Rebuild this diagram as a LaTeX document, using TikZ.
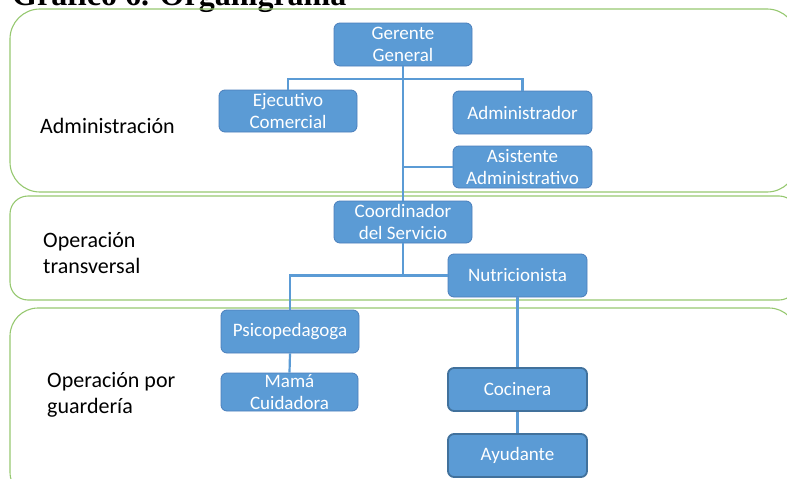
\documentclass[tikz,border=0pt]{standalone}
\usepackage{fontspec}
\setmainfont{Carlito}
\newfontfamily\titlefont{Liberation Serif}
\definecolor{panelgreen}{RGB}{150,200,112}
\definecolor{boxblue}{RGB}{91,155,213}
\definecolor{boxedge}{RGB}{74,126,187}
\definecolor{boxdark}{RGB}{65,113,156}
\begin{document}
\begin{tikzpicture}[x=1pt,y=-1pt,
  panel/.style={draw=panelgreen, line width=1.1pt},
  orgbox/.style={draw=boxedge, line width=0.8pt, fill=boxblue, rounded corners=6pt,
    text=white, align=center, inner sep=0pt, font=\fontsize{19}{21.5}\selectfont},
  orgboxdark/.style={orgbox, draw=boxdark, line width=1.8pt},
  link/.style={draw=boxblue, line width=2.2pt},
  lbl/.style={anchor=base west, inner sep=0pt, font=\fontsize{22}{26}\selectfont, align=left}
]
\useasboundingbox (0,0) rectangle (787,479);
\clip (0,0) rectangle (787,479);
% title (cut off at the top, as in the reference)
\node[anchor=base west, inner sep=0pt, font=\titlefont\bfseries\fontsize{32}{36}\selectfont] (title) at (12,5.5) {Gráfico 6. Organigrama};
% panels
\draw[panel, rounded corners=30pt] (10,9) rectangle (797,192);
\draw[panel, rounded corners=18pt] (10,196) rectangle (797,300);
\draw[panel, rounded corners=28pt] (10,308) rectangle (797,500);
% panel labels (anchored at the baseline of the last line)
\node[lbl] (l1) at (40,133) {Administración};
\node[lbl] (l2) at (43,273) {Operación\\transversal};
\node[lbl] (l3) at (47,413) {Operación por\\guardería};
\coordinate (h1) at (403,79);
% boxes
\node[orgbox, minimum width=138pt, minimum height=43pt] (gg) at (403,44.5) {Gerente\\General};
\node[orgbox, minimum width=138pt, minimum height=42pt] (ej) at (288,111) {Ejecutivo\\Comercial};
\node[orgbox, minimum width=139pt, minimum height=43pt] (ad) at (522.5,112.5) {Administrador};
\node[orgbox, minimum width=139pt, minimum height=42pt] (as) at (522.5,167) {Asistente\\Administrativo};
\node[orgbox, minimum width=138pt, minimum height=42pt] (co) at (403,222) {Coordinador\\del Servicio};
\node[orgbox, minimum width=139pt, minimum height=43pt] (nu) at (517.5,275.5) {Nutricionista};
\node[orgbox, minimum width=138pt, minimum height=43pt] (ps) at (290,331.5) {Psicopedagoga};
\node[orgbox, minimum width=137pt, minimum height=38pt] (mc) at (289.5,392) {Mamá\\Cuidadora};
\node[orgboxdark, minimum width=139pt, minimum height=43pt] (coc) at (517.5,389.5) {Cocinera};
\node[orgboxdark, minimum width=139pt, minimum height=43pt] (ay) at (517.5,455.5) {Ayudante};
% connectors
\draw[link] (gg.south) -- (co.north);
\draw[link] (ej.north) -- (ej.north |- h1) -- (ad.north |- h1) -- (ad.north);
\draw[link] (gg.south |- as.west) -- (as.west);
\draw[link] (co.south) -- (co.south |- nu.west);
\draw[link] (ps.north) |- (nu.west);
\draw[link] (ps.south) -- (mc.north);
\draw[link] (nu.south) -- (coc.north);
\draw[link] (coc.south) -- (ay.north);
\end{tikzpicture}
\end{document}
